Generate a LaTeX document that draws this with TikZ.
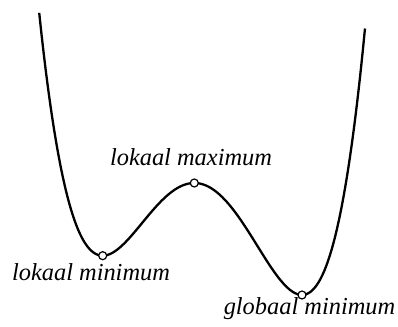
\documentclass[tikz,border=0pt]{standalone}
\usepackage{fontspec}
\setmainfont{Liberation Serif}
\usepackage{tikz}
\definecolor{curvblack}{HTML}{000000}

\begin{document}
\begin{tikzpicture}[x=0.5pt,y=0.5pt,
    ext/.style={circle,draw=curvblack,fill=white,line width=0.6pt,
      inner sep=0pt,minimum size=4pt},
    lbl/.style={anchor=base,inner sep=0pt,
      font=\fontsize{12.2}{14}\selectfont\itshape}]
  \useasboundingbox (0,0) rectangle (398,327);
  % quartic with extrema at x = 102.7, 194.3, 302
  \draw[curvblack,line width=1.15pt,smooth]
    plot[domain=-1.551:1.707,samples=140]
    ({194.3+100*\x},{144+369.7*(0.25*(\x)^4-0.05367*(\x)^3-0.49327*(\x)^2)});
  \node[ext] (lmin) at (102.7,71.3) {};
  \node[ext] (lmax) at (194.3,144) {};
  \node[ext] (gmin) at (302,32) {};
  \node[lbl] (lminlbl) at (91,46.3) {lokaal minimum};
  \node[lbl] (lmaxlbl) at (191,161.3) {lokaal maximum};
  \node[lbl] (gminlbl) at (309.5,12) {globaal minimum};
\end{tikzpicture}
\end{document}
